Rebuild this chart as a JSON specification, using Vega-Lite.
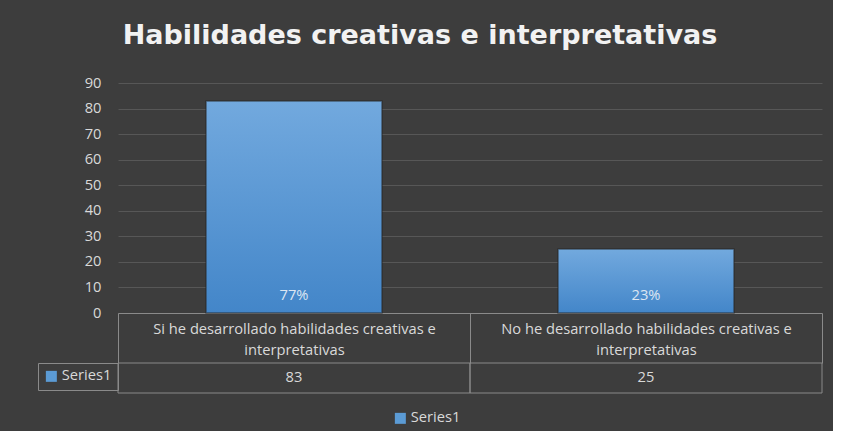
{
  "$schema": "https://vega.github.io/schema/vega-lite/v6.json",
  "background": "#3d3d3d",
  "padding": {"left": 37, "top": 22, "right": 10, "bottom": 5},
  "title": {
    "text": "Habilidades creativas e interpretativas",
    "font": "DejaVu Sans",
    "fontSize": 27,
    "fontWeight": "bold",
    "color": "#f2f2f2",
    "anchor": "middle",
    "dx": -10,
    "offset": 25
  },
  "datasets": {
    "table": [
      {"categoria": "Si he desarrollado habilidades creativas e interpretativas", "serie": "Series1", "valor": 83, "porcentaje": "77%"},
      {"categoria": "No he desarrollado habilidades creativas e interpretativas", "serie": "Series1", "valor": 25, "porcentaje": "23%"}
    ]
  },
  "spacing": 50,
  "bounds": "flush",
  "resolve": {"scale": {"color": "independent"}, "legend": {"color": "independent"}},
  "vconcat": [
    {
      "width": 704,
      "height": 230,
      "data": {"name": "table"},
      "layer": [
        {
          "mark": {
            "type": "bar",
            "width": {"band": 0.5},
            "fill": {"gradient": "linear", "x1": 0, "y1": 0, "x2": 0, "y2": 1,
              "stops": [{"offset": 0, "color": "#72a9de"}, {"offset": 1, "color": "#4386c9"}]},
            "stroke": "#262626",
            "strokeOpacity": 0.6,
            "strokeWidth": 1.5
          },
          "encoding": {
            "x": {
              "field": "categoria", "type": "nominal", "sort": null,
              "scale": {"paddingInner": 0, "paddingOuter": 0},
              "axis": {
                "title": null, "labelAngle": 0,
                "labelExpr": "datum.label ? [slice(datum.label, 0, -16), 'interpretativas'] : ''",
                "labelColor": "#d9d9d9", "labelFontSize": 14.7, "labelFont": "Open Sans",
                "labelLineHeight": 21, "labelPadding": -42, "labelBaseline": "top",
                "labelLimit": 400, "labelOverlap": false,
                "tickBand": "extent", "tickSize": 50, "tickColor": "#8a8a8a", "tickWidth": 1,
                "domainColor": "#8a8a8a", "domainWidth": 1, "grid": false
              }
            },
            "y": {
              "field": "valor", "type": "quantitative",
              "scale": {"domain": [0, 90]},
              "axis": {
                "title": null, "values": [0, 10, 20, 30, 40, 50, 60, 70, 80, 90],
                "labelOverlap": false
              }
            }
          }
        },
        {
          "mark": {"type": "text", "dy": -17, "color": "#dce6f2", "fontSize": 14.7, "font": "Open Sans"},
          "encoding": {
            "x": {"field": "categoria", "type": "nominal", "sort": null},
            "y": {"datum": 0, "axis": {"title": null, "values": [0, 10, 20, 30, 40, 50, 60, 70, 80, 90], "labelOverlap": false}},
            "text": {"field": "porcentaje"}
          }
        },
        {
          "mark": {"type": "square", "size": 0},
          "encoding": {
            "color": {
              "datum": "Series1",
              "scale": {"range": ["#5b9bd5"]},
              "legend": {
                "orient": "none", "legendX": 275, "legendY": 328, "direction": "horizontal",
                "title": null, "symbolType": "square", "symbolSize": 121, "symbolStrokeWidth": 0,
                "symbolOpacity": 1,
                "labelColor": "#d9d9d9", "labelFontSize": 14.7, "labelFont": "Open Sans", "labelOffset": 3
              }
            }
          }
        }
      ]
    },
    {
      "width": 704,
      "height": 30,
      "data": {"name": "table"},
      "layer": [
        {
          "mark": {"type": "rect", "fillOpacity": 0, "fill": "#000000", "stroke": "#8a8a8a", "strokeWidth": 1},
          "encoding": {
            "x": {"field": "categoria", "type": "nominal", "sort": null,
              "scale": {"paddingInner": 0, "paddingOuter": 0}, "axis": null}
          }
        },
        {
          "mark": {"type": "text", "color": "#d9d9d9", "fontSize": 14.7, "font": "Open Sans"},
          "encoding": {
            "x": {"field": "categoria", "type": "nominal", "sort": null},
            "text": {"field": "valor"}
          }
        },
        {
          "mark": {"type": "square", "size": 0},
          "encoding": {
            "color": {
              "datum": "Series1",
              "scale": {"range": ["#5b9bd5"]},
              "legend": {
                "orient": "left", "offset": 0, "title": null,
                "strokeColor": "#8a8a8a", "padding": 6,
                "symbolType": "square", "symbolSize": 121, "symbolStrokeWidth": 0,
                "symbolOpacity": 1,
                "labelColor": "#d9d9d9", "labelFontSize": 14.7, "labelFont": "Open Sans", "labelOffset": 3
              }
            }
          }
        }
      ]
    }
  ],
  "config": {
    "view": {"stroke": null},
    "font": "Open Sans",
    "axisY": {
      "grid": true, "gridColor": "#575757", "gridWidth": 1,
      "domain": false, "ticks": false, "tickSize": 0, "labelPadding": 17,
      "labelColor": "#d9d9d9", "labelFontSize": 14.7, "labelFont": "Open Sans", "labelOverlap": false
    }
  }
}
